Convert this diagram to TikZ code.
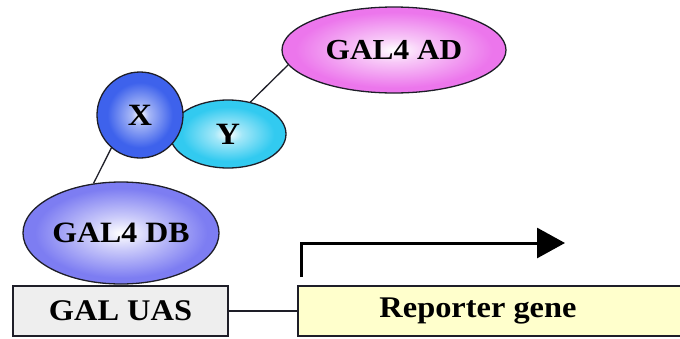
\documentclass[tikz,border=0pt]{standalone}
\usepackage{fontspec}
\setmainfont{Liberation Serif}[FakeStretch=1.08]
\usetikzlibrary{shapes.geometric,arrows.meta}
\definecolor{adcol}{RGB}{236,118,236}
\definecolor{xcol}{RGB}{62,98,236}
\definecolor{ycol}{RGB}{50,202,240}
\definecolor{dbcol}{RGB}{125,125,242}
\definecolor{uasgray}{RGB}{238,238,238}
\definecolor{repyellow}{RGB}{255,255,204}
\definecolor{edge}{RGB}{30,30,40}
\pgfdeclareradialshading{adshade}{\pgfpoint{0bp}{0bp}}{color(0bp)=(white); color(7bp)=(white!60!adcol); color(22bp)=(adcol); color(25bp)=(adcol); color(50bp)=(adcol)}
\pgfdeclareradialshading{xshade}{\pgfpoint{0bp}{0bp}}{color(0bp)=(white); color(5bp)=(white!55!xcol); color(19bp)=(xcol); color(25bp)=(xcol); color(50bp)=(xcol)}
\pgfdeclareradialshading{yshade}{\pgfpoint{0bp}{0bp}}{color(0bp)=(white); color(6bp)=(white!55!ycol); color(20bp)=(ycol); color(25bp)=(ycol); color(50bp)=(ycol)}
\pgfdeclareradialshading{dbshade}{\pgfpoint{0bp}{0bp}}{color(0bp)=(white); color(8bp)=(white!60!dbcol); color(22bp)=(dbcol); color(25bp)=(dbcol); color(50bp)=(dbcol)}
\begin{document}
\begin{tikzpicture}[x=1pt,y=-1pt,
  blob/.style={ellipse,draw=edge,line width=1.3pt,inner sep=0pt,shade},
  boxst/.style={rectangle,draw=edge,line width=1.3pt,inner sep=0pt},
  link/.style={line width=1.3pt,draw=edge}]
\useasboundingbox (0,0) rectangle (680,338);
\node[blob,shading=adshade,minimum width=224pt,minimum height=86pt,font=\bfseries\fontsize{29}{29}\selectfont] (ad) at (394,50) {GAL4 AD};
\node[blob,shading=yshade,minimum width=116pt,minimum height=68pt,font=\bfseries\fontsize{31}{31}\selectfont] (y) at (228,134) {Y};
\node[blob,circle,shading=xshade,minimum size=86pt,font=\bfseries\fontsize{31}{31}\selectfont] (x) at (140,115) {X};
\node[blob,shading=dbshade,minimum width=196pt,minimum height=102pt,font=\bfseries\fontsize{29.5}{29.5}\selectfont] (db) at (121,233) {GAL4 DB};
\node[boxst,fill=uasgray,minimum width=215pt,minimum height=50pt,font=\bfseries\fontsize{30}{30}\selectfont] (uas) at (120.5,311) {GAL UAS};
\node[boxst,fill=repyellow,minimum width=386pt,minimum height=50pt,font=\bfseries\fontsize{30}{30}\selectfont] (rep) at (491,311) {\hspace*{-26pt}Reporter gene};
\draw[link] (x.229) -- (db.119);
\draw[link] (y.55) -- (ad.188);
\draw[link] (uas.east) -- (rep.west);
\coordinate (tss) at (301,277);
\coordinate (tip) at (565,243);
\draw[line width=3pt,draw=black,-{Triangle[length=28pt,width=30pt]}] (tss) |- (tip);
\end{tikzpicture}
\end{document}
